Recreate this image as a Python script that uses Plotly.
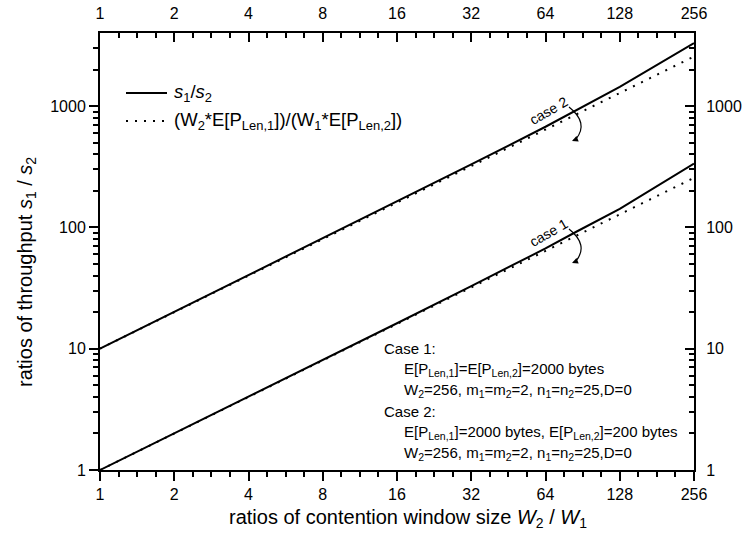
import plotly.graph_objects as go
import numpy as np

# ---- data ----
ratio_w = [1, 2, 4, 8, 16, 32, 64, 85.33, 128, 256]
case1_s = [1, 2.0, 4.0, 8.05, 16.2, 32.8, 67, 92, 142, 335]
case2_s = [10, 20.1, 40.3, 81, 163, 330, 675, 930, 1440, 3300]
ratio_w_pow2 = [1, 2, 4, 8, 16, 32, 64, 128, 256]
case1_model = [1, 2, 4, 8, 16, 32, 64, 128, 256]
case2_model = [10, 20, 40, 80, 160, 320, 640, 1280, 2560]
x_ticks = [1, 2, 4, 8, 16, 32, 64, 128, 256]
y_ticks = [1, 10, 100, 1000]

FONT = "Arial, Liberation Sans, sans-serif"
W, H = 746, 548
L, R, T, B = 100, 694, 33, 470


def px(x):
    return (x - L) / (R - L)


def py(y):
    return (B - y) / (B - T)


fig = go.Figure()
solid = dict(color="black", width=2)
dotted = dict(color="black", width=2, dash="2px,7px")
fig.add_trace(go.Scatter(x=ratio_w, y=case1_s, mode="lines", line=solid, showlegend=False))
fig.add_trace(go.Scatter(x=ratio_w, y=case2_s, mode="lines", line=solid, showlegend=False))
fig.add_trace(go.Scatter(x=ratio_w_pow2, y=case1_model, mode="lines", line=dotted, showlegend=False))
fig.add_trace(go.Scatter(x=ratio_w_pow2, y=case2_model, mode="lines", line=dotted, showlegend=False))
# invisible trace for mirrored axes
fig.add_trace(go.Scatter(x=[1, 256], y=[1, 1000], xaxis="x2", yaxis="y2", mode="markers",
                         marker=dict(opacity=0), showlegend=False, hoverinfo="skip"))

xr = [0, np.log10(256)]
yr = [0, np.log10(4000)]
x_minor = [2 ** (k + f) for k in range(8) for f in (0.25, 0.5, 0.75)]
y_minor = [m * 10 ** d for d in range(4) for m in range(2, 10) if m * 10 ** d < 4000]

axis_common = dict(showline=True, linecolor="black", linewidth=2, showgrid=False, zeroline=False,
                   tickcolor="black", tickwidth=1.5, ticklen=9, automargin=False,
                   tickfont=dict(family=FONT, size=16, color="black"))
minor_out = dict(ticks="outside", ticklen=5, tickwidth=1.5, tickcolor="black")
minor_in = dict(ticks="inside", ticklen=5, tickwidth=1.5, tickcolor="black")

fig.update_layout(
    width=W, height=H,
    margin=dict(l=L, r=W - R, t=T, b=H - B, autoexpand=False),
    paper_bgcolor="white", plot_bgcolor="white",
    xaxis=dict(type="log", range=xr, tickmode="array", tickvals=x_ticks,
               ticktext=[str(v) for v in x_ticks], ticks="outside",
               minor=dict(tickvals=x_minor, **minor_out), **axis_common),
    xaxis2=dict(type="log", range=xr, overlaying="x", side="top", tickmode="array", tickvals=x_ticks,
                ticktext=[str(v) for v in x_ticks], ticks="inside", ticklabelstandoff=6,
                minor=dict(tickvals=x_minor, **minor_in), **axis_common),
    yaxis=dict(type="log", range=yr, tickmode="array", tickvals=y_ticks,
               ticktext=[str(v) for v in y_ticks], ticks="outside",
               minor=dict(tickvals=y_minor, **minor_out), **axis_common),
    yaxis2=dict(type="log", range=yr, overlaying="y", side="right", tickmode="array", tickvals=y_ticks,
                ticktext=[str(v) for v in y_ticks], ticks="inside", ticklabelstandoff=7,
                minor=dict(tickvals=y_minor, **minor_in), **axis_common),
)

ann = []
shapes = []


def text(x, y, t, size, xanchor="center", angle=0):
    ann.append(dict(x=px(x), y=py(y), xref="paper", yref="paper", showarrow=False,
                    xanchor=xanchor, yanchor="middle", textangle=angle, text=t,
                    font=dict(family=FONT, size=size, color="black")))


# axis titles
text(408, 518, "ratios of contention window size <i>W</i><sub>2</sub> / <i>W</i><sub>1</sub>", 20)
text(26, 272, "ratios of throughput <i>s</i><sub>1</sub> / <i>s</i><sub>2</sub>", 20, angle=-90)

# legend (manual)
shapes.append(dict(type="line", xref="paper", yref="paper", x0=px(126), x1=px(167), y0=py(93), y1=py(93),
                   line=dict(color="black", width=2)))
shapes.append(dict(type="line", xref="paper", yref="paper", x0=px(126), x1=px(167), y0=py(121), y1=py(121),
                   line=dict(color="black", width=2, dash="2px,7px")))
text(172, 93, "<i>s</i><sub>1</sub>/<i>s</i><sub>2</sub>", 18.5, xanchor="left")
text(172, 121, "(W<sub>2</sub>*E[P<sub>Len,1</sub>])/(W<sub>1</sub>*E[P<sub>Len,2</sub>])", 18.5, xanchor="left")

# parameter block
rows = [
    (382, "Case 1:"),
    (402, "E[P<sub>Len,1</sub>]=E[P<sub>Len,2</sub>]=2000 bytes"),
    (402, "W<sub>2</sub>=256, m<sub>1</sub>=m<sub>2</sub>=2, n<sub>1</sub>=n<sub>2</sub>=25,D=0"),
    (382, "Case 2:"),
    (402, "E[P<sub>Len,1</sub>]=2000 bytes, E[P<sub>Len,2</sub>]=200 bytes"),
    (402, "W<sub>2</sub>=256, m<sub>1</sub>=m<sub>2</sub>=2, n<sub>1</sub>=n<sub>2</sub>=25,D=0"),
]
for i, (x0, t) in enumerate(rows):
    text(x0, 348 + i * 21, t, 15, xanchor="left")

# case labels with curved arrows
for lbl, yc in (("case 2", 111), ("case 1", 233)):
    text(548, yc, lbl, 14, angle=-30)
    shapes.append(dict(type="path", xref="paper", yref="paper",
                       path=f"M {px(569)},{py(yc - 4)} Q {px(589)},{py(yc + 12)} {px(576)},{py(yc + 28)}",
                       line=dict(color="black", width=1.2)))
    ann.append(dict(x=px(572), y=py(yc + 30), xref="paper", yref="paper", ax=5, ay=-2,
                    showarrow=True, arrowhead=2, arrowsize=1, arrowwidth=1.2, text="", arrowcolor="black"))

fig.update_layout(annotations=ann, shapes=shapes)
fig.write_html("out.html")
